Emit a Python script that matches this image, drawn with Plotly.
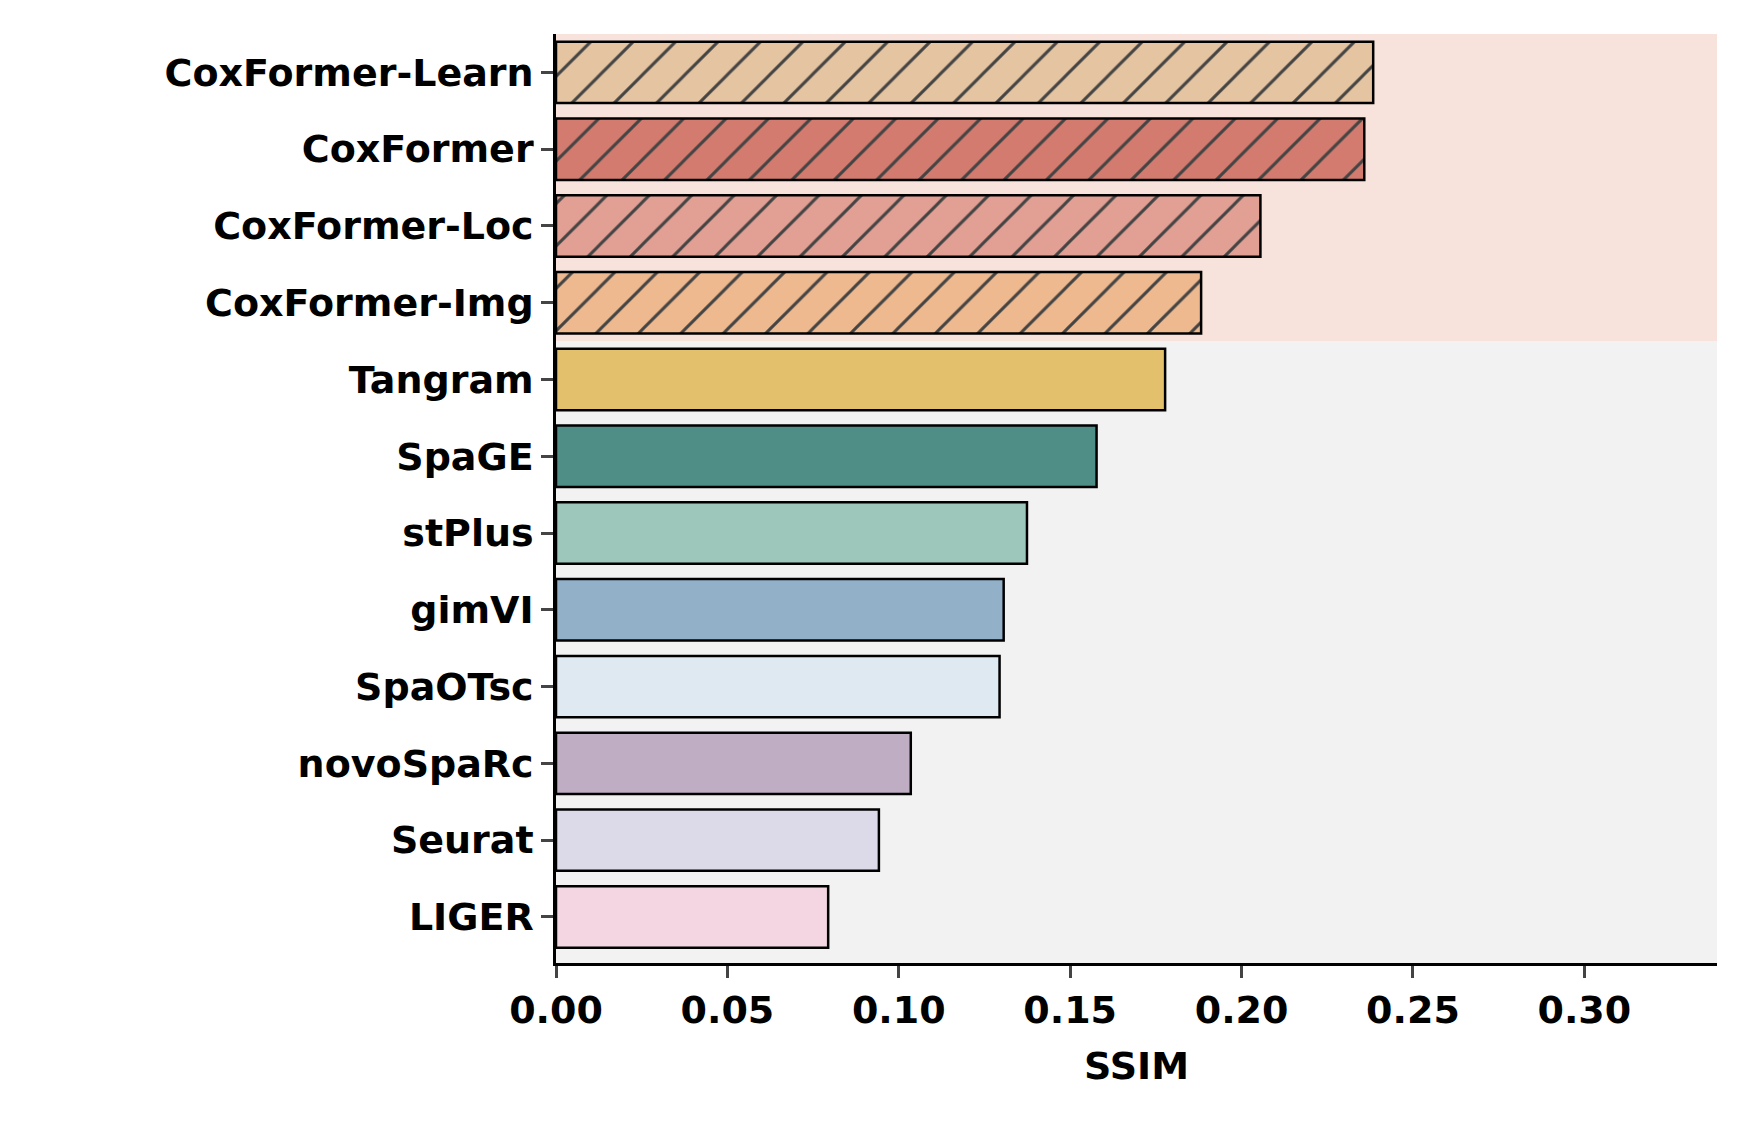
import plotly.graph_objects as go

methods = ["CoxFormer-Learn", "CoxFormer", "CoxFormer-Loc", "CoxFormer-Img", "Tangram", "SpaGE",
           "stPlus", "gimVI", "SpaOTsc", "novoSpaRc", "Seurat", "LIGER"]
ssim = [0.2384, 0.2358, 0.2055, 0.1882, 0.1777, 0.1577, 0.1374, 0.1306, 0.1294, 0.1035, 0.0942, 0.0794]
colors = ["#E5C4A1", "#D47B6F", "#E29F94", "#EEB98F", "#E2C06C", "#4F8E86",
          "#9DC7BA", "#92B1C9", "#DEE9F2", "#BFADC4", "#DCDAE8", "#F3D6E2"]
hatched = [True, True, True, True] + [False] * 8
x_ticks = [0.0, 0.05, 0.10, 0.15, 0.20, 0.25, 0.30]

fig = go.Figure()
fig.add_trace(go.Bar(
    x=ssim, y=methods, orientation="h", width=0.8,
    marker=dict(color=colors, line=dict(color="black", width=2.5),
                pattern=dict(shape=["/" if h else "" for h in hatched],
                             fgcolor="black", fgopacity=1, size=30, solidity=0.1, fillmode="overlay")),
))
fig.add_shape(type="rect", xref="x domain", yref="y", x0=0, x1=1, y0=-0.5, y1=3.5,
              fillcolor="#F8E3DC", line_width=0, layer="below")
fig.add_shape(type="rect", xref="x domain", yref="y", x0=0, x1=1, y0=3.5, y1=11.6,
              fillcolor="#F1F2F1", line_width=0, layer="below")

font = dict(family="DejaVu Sans", size=38, color="black", weight="bold")
fig.update_layout(
    width=1737, height=1125, plot_bgcolor="white", paper_bgcolor="white",
    margin=dict(l=548, r=28, t=26, b=170), showlegend=False,
    font=font,
)
fig.update_xaxes(range=[0, 0.3387], tickvals=x_ticks, ticktext=[f"{v:.2f}" for v in x_ticks],
                 showline=True, linecolor="black", linewidth=2.5, ticks="outside", ticklen=12,
                 tickwidth=2.5, showgrid=False, zeroline=False,
                 title=dict(text="SSIM", font=font, standoff=22), tickfont=font)
fig.update_yaxes(categoryorder="array", categoryarray=methods, autorange="reversed",
                 range=[11.6, -0.5], showline=True, linecolor="black", linewidth=2.5,
                 ticks="outside", ticklen=12, tickwidth=2.5, showgrid=False, tickfont=font)
fig.write_html("out.html")
